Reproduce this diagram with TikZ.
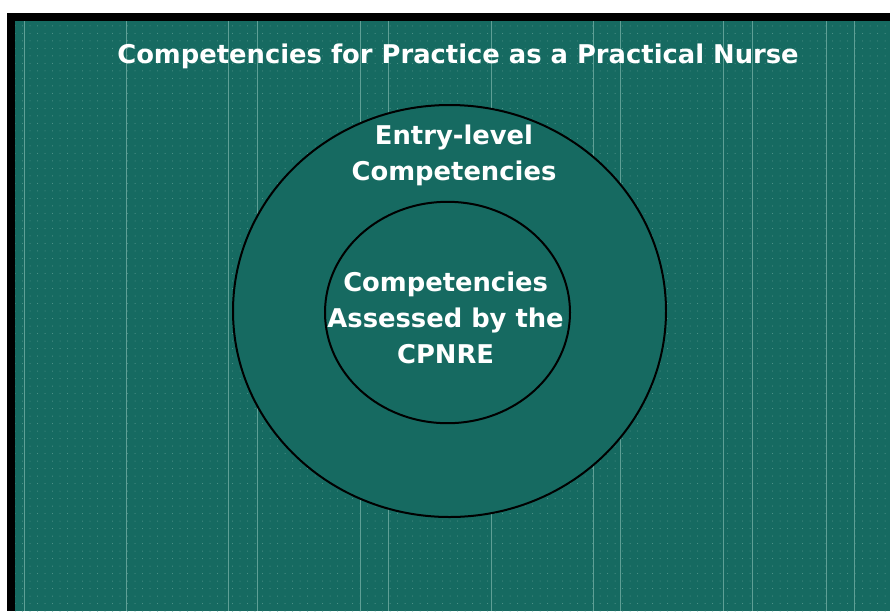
\documentclass[tikz,border=0pt]{standalone}
\usepackage{fontspec}
\setmainfont{DejaVu Sans}
\usetikzlibrary{patterns.meta}

\definecolor{slate}{HTML}{166A61}
\definecolor{slateline}{HTML}{5FA096}
\definecolor{slatedot}{HTML}{5A9A91}

\tikzset{
  caption/.style={text=white, font=\bfseries\fontsize{25.8}{36}\selectfont, inner sep=0pt, align=center},
  ring/.style={draw=black, line width=2pt, fill=slate}
}

\begin{document}
\begin{tikzpicture}[x=1pt,y=-1pt]
%\draw [help lines] (0,0) grid (890,611);
\useasboundingbox (0,0) rectangle (890,611);

% frame and background
\fill [white] (0,0) rectangle (890,611);
\fill [black] (7,13) rectangle (890,611);
\fill [slate] (15,21) rectangle (890,611);
\fill [pattern={Dots[distance=7.5pt, radius=0.5pt]}, pattern color=slatedot] (15,21) rectangle (890,611);

% faint rulings
\foreach \xx in {24,126,228,257,360,388,491,593,620,723,752,826,854}
  \draw [slateline, line width=0.9pt] (\xx,21)--(\xx,611);

% title
\node [caption, anchor=base] (title) at (458,63.5) {Competencies for Practice as a Practical Nurse};

% outer ring
\draw [ring] (449.5,311) ellipse (216.5 and 206);
\node [caption] (entry) at (454,155.7) {Entry-level\\Competencies};

% inner ring
\draw [ring] (447.5,312.5) ellipse (122.5 and 110.7);
\node [caption] (assessed) at (445.6,318) {Competencies\\Assessed by the\\CPNRE};

\end{tikzpicture}
\end{document}
